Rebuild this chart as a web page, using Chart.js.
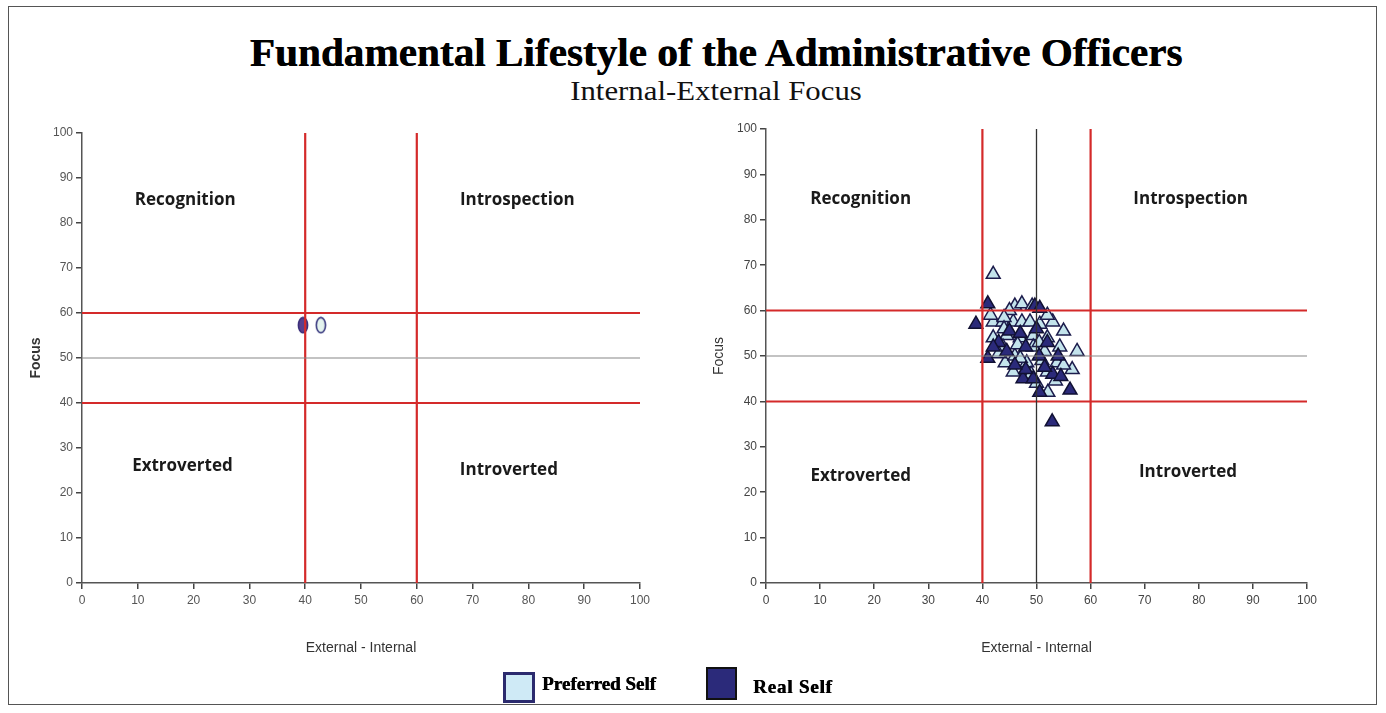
<!DOCTYPE html>
<html>
<head>
<meta charset="utf-8">
<script src="https://cdn.jsdelivr.net/npm/chart.js@4.4.1/dist/chart.umd.min.js"></script>
<style>
  html, body { margin:0; padding:0; background:#fff; }
  body { width:1386px; height:713px; position:relative; overflow:hidden; }
  #frame { position:absolute; left:8px; top:6px; width:1369px; height:699px; border:1px solid #555; box-sizing:border-box; }
  #title { position:absolute; left:0; width:1432px; top:29px; text-align:center; font-family:"Liberation Serif","DejaVu Serif",serif; font-weight:bold; font-size:40px; color:#000; transform:scaleX(1.03); transform-origin:716px 0; text-shadow:0.5px 0 0 #000; }
  #subtitle { position:absolute; left:0; width:1432px; top:75px; text-align:center; font-family:"Liberation Serif",serif; font-size:28px; color:#111; transform:scaleX(1.1); transform-origin:716px 0; }
  canvas { position:absolute; }
  #c1 { left:20px; top:110px; }
  #c2 { left:700px; top:110px; }
  .lg-box { position:absolute; box-sizing:border-box; }
  .lg-text { position:absolute; font-family:"Liberation Serif",serif; font-weight:bold; font-size:19px; color:#000; text-shadow:0.6px 0 0 #000; }
</style>
</head>
<body>
<div id="frame"></div>
<div id="title">Fundamental Lifestyle of the Administrative Officers</div>
<div id="subtitle">Internal-External Focus</div>
<canvas id="c1" width="650" height="560"></canvas>
<canvas id="c2" width="650" height="560"></canvas>
<div class="lg-box" style="left:503px;top:672px;width:32px;height:31px;background:#cfeaf6;border:3px solid #2b2a6e;"></div>
<div class="lg-text" style="left:542px;top:673px;">Preferred Self</div>
<div class="lg-box" style="left:706px;top:667px;width:31px;height:33px;background:#2b2a7a;border:2px solid #111;"></div>
<div class="lg-text" style="left:753px;top:676px;letter-spacing:0.8px;">Real Self</div>
<script>
// ---- Data ----
const axisTicks = [0,10,20,30,40,50,60,70,80,90,100];
const quadrantNames = ["Recognition","Introspection","Extroverted","Introverted"];

// Left chart (group means)
const leftPreferredX = [42.8];
const leftPreferredY = [57.3];
const leftRealX = [39.6];
const leftRealY = [57.3];

// Right chart (individual officers)
const rightPreferredX = [42,46,47.3,49.2,42,43.8,45.7,47.3,48.8,50.6,53,42,44.5,47,49.4,52,43.8,49.4,54.3,57.5,44.2,48.2,51,53.8,45.7,52,56.6,50,52.1,43,46,51.5,45,44,52,55,46.5,50.5,47,55,49,53.5,44,41.5];
const rightPreferredY = [68,61,61.5,61,57.5,57.5,57.5,57.5,57.5,57,57.5,54,54.5,54,54.5,54,52,52,52,51,48.5,48.5,49,48.5,46.5,46.5,47,44,42,50.5,50,51,60,58.5,59,55.5,52.5,53,49.5,48,46,44.5,56,59];
const rightRealX = [41,38.8,41,52.9,56.2,49.7,50.6,47.5,49.4,50.6,45,50,48,50.5,54,53,48,43,44.5,47,51.5,46,52,54.5,42];
const rightRealY = [61.5,57,49.5,35.5,42.5,61,60.5,45,45,42,55.5,56,52,50,50,46,47,53,51,55,47.5,48,53,45.5,52];

// Quadrant boundaries
const redX = [40,60];
const redY = [40,60];
const midValue = 50;

function pts(xs, ys){ return xs.map((x,i)=>({x:x,y:ys[i]})); }

function ellipse(fill, stroke){
  const c = document.createElement('canvas');
  c.width = 12; c.height = 18;
  const g = c.getContext('2d');
  g.beginPath();
  g.ellipse(6,9,4.6,7.6,0,0,Math.PI*2);
  g.fillStyle = fill; g.fill();
  g.lineWidth = 1.6; g.strokeStyle = stroke; g.stroke();
  return c;
}

function vline(x, color, w){ return {type:'line', data:[{x:x,y:0},{x:x,y:100}], borderColor:color, borderWidth:w, pointRadius:0, showLine:true, order:0}; }
function hline(y, color, w){ return {type:'line', data:[{x:0,y:y},{x:100.8,y:y}], borderColor:color, borderWidth:w, pointRadius:0, showLine:true, order:0}; }

const quadLabels = {
  id:'quadLabels',
  afterDatasetsDraw(chart, args, opts){
    const {ctx, scales:{x,y}} = chart;
    ctx.save();
    ctx.font = 'bold 17px "Open Sans", "Liberation Sans", sans-serif';
    ctx.fillStyle = '#1a1a1a';
    ctx.textAlign = 'center'; ctx.textBaseline = 'middle';
    opts.pos.forEach((p,i)=>{ ctx.fillText(quadrantNames[i], x.getPixelForValue(p[0]), y.getPixelForValue(p[1])); });
    ctx.restore();
  }
};

function fixedAxes(yW, xH, focusPad){
  return {
    x: { type:'linear', min:0, max:100, afterBuildTicks(s){ s.ticks = axisTicks.map(v=>({value:v})); },
         afterFit(s){ s.height = xH; },
         border:{display:true,color:'#555',width:1.5},
         grid:{drawOnChartArea:false, color:'#444', tickLength:6, lineWidth:1.5},
         ticks:{color:'#555', font:{family:'"Liberation Sans", sans-serif', size:12}, padding:4, maxRotation:0},
         title:{display:true, text:'External - Internal', color:'#333', font:{family:'"Liberation Sans", sans-serif', size:14}, padding:{top:4,bottom:13}} },
    y: { type:'linear', min:0, max:100, afterBuildTicks(s){ s.ticks = axisTicks.map(v=>({value:v})); },
         afterFit(s){ s.width = yW; },
         border:{display:true,color:'#555',width:1.5},
         grid:{drawOnChartArea:false, color:'#444', tickLength:6, lineWidth:1.5},
         ticks:{color:'#555', font:{family:'"Liberation Sans", sans-serif', size:12}, padding:3},
         title:{display:true, text:'Focus', color:'#333', font:{family:'"Liberation Sans", sans-serif', size:14, weight:'bold'}, padding:{top:focusPad,bottom:4}} }
  };
}

const red = '#d42a2a';

new Chart(document.getElementById('c1'), {
  type:'scatter',
  data:{ datasets:[
    hline(midValue,'#888',1.2),
    hline(redY[0],red,2), hline(redY[1],red,2),
    vline(redX[0],red,2.2), vline(redX[1],red,2.2),
    {label:'Real Self', data:pts(leftRealX,leftRealY), pointStyle:ellipse('#5a3f8e','#3a2f7a'), pointRadius:8, order:1},
    {label:'Preferred Self', data:pts(leftPreferredX,leftPreferredY), pointStyle:ellipse('#e4f3ee','#3b3a80'), pointRadius:8, order:1}
  ]},
  options:{
    responsive:false, animation:false, events:[],
    layout:{padding:{top:23,right:30,left:0,bottom:0}},
    plugins:{legend:{display:false}, tooltip:{enabled:false},
      quadLabels:{pos:[[18.5,85],[78,85],[18,26],[76.5,25]]}},
    scales: fixedAxes(62,87,8)
  },
  plugins:[quadLabels]
});

new Chart(document.getElementById('c2'), {
  type:'scatter',
  data:{ datasets:[
    hline(midValue,'#888',1.2),
    vline(midValue,'#333',1.3),
    hline(redY[0],red,2), hline(redY[1],red,2),
    vline(redX[0],red,2.2), vline(redX[1],red,2.2),
    {label:'Preferred Self', data:pts(rightPreferredX,rightPreferredY), pointStyle:'triangle', pointRadius:8, backgroundColor:'#c4e4ec', borderColor:'#1c1c4c', borderWidth:1.5, order:2},
    {label:'Real Self', data:pts(rightRealX,rightRealY), pointStyle:'triangle', pointRadius:8, backgroundColor:'#2b2a7a', borderColor:'#111133', borderWidth:1.5, order:1}
  ]},
  options:{
    responsive:false, animation:false, events:[],
    layout:{padding:{top:19,right:43,left:0,bottom:0}},
    plugins:{legend:{display:false}, tooltip:{enabled:false},
      quadLabels:{pos:[[17.5,84.5],[78.5,84.5],[17.5,23.5],[78,24.5]]}},
    scales: (function(){ const s = fixedAxes(66,87,11); s.y.title.font.weight='normal'; s.y.ticks.color='#444'; s.x.ticks.color='#444'; return s; })()
  },
  plugins:[quadLabels]
});
</script>
</body>
</html>
